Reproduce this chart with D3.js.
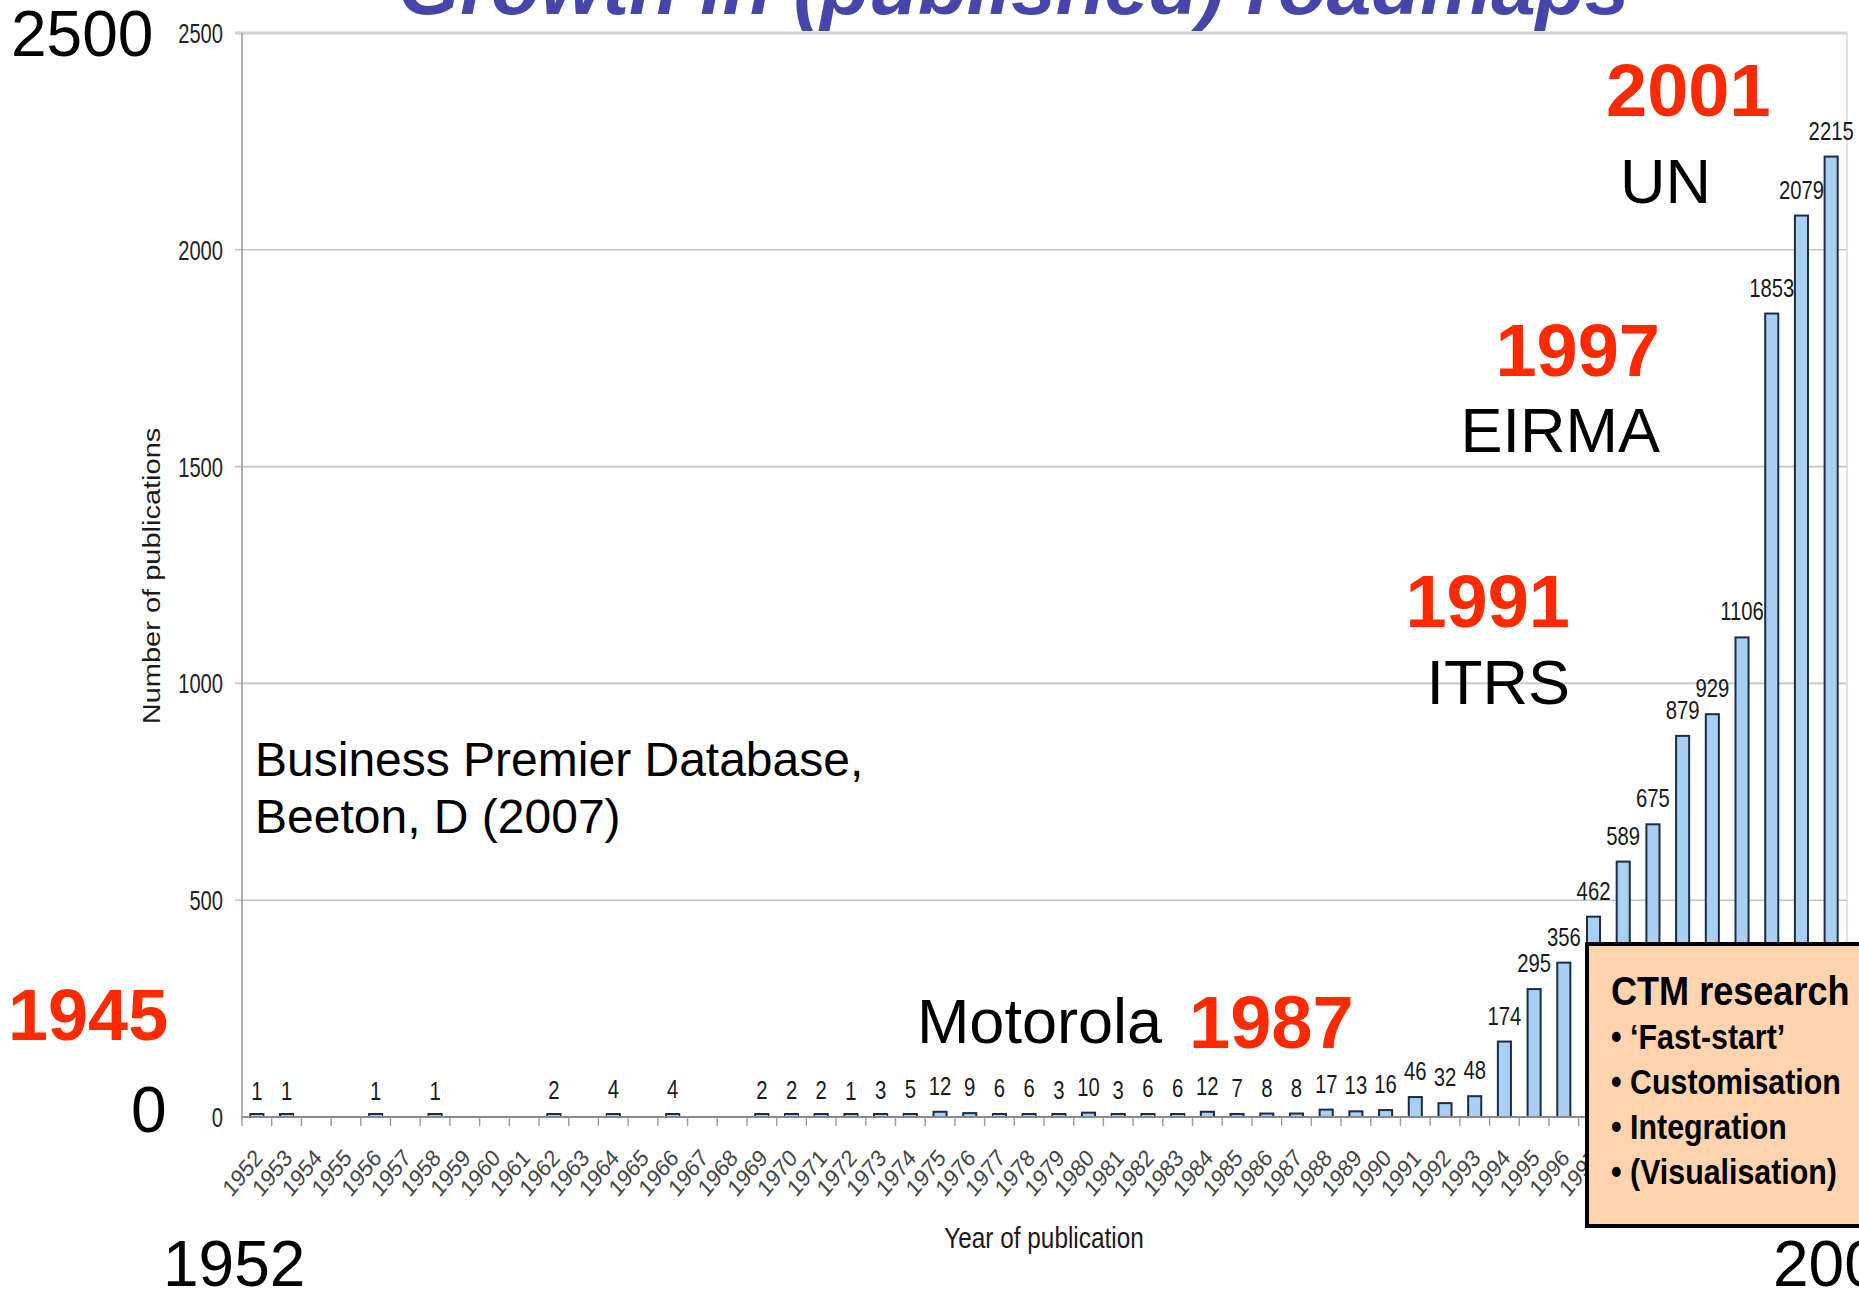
<!DOCTYPE html>
<html>
<head>
<meta charset="utf-8">
<script src="https://d3js.org/d3.v7.min.js"></script>
<style>
  html, body { margin: 0; padding: 0; background: #fff; overflow: hidden; }
  svg { display: block; font-family: "Liberation Sans", Arial, sans-serif; }
</style>
</head>
<body>
<svg id="chart" width="1859" height="1290"></svg>
<script>
// ---- data ----
const years = ["1952","1953","1954","1955","1956","1957","1958","1959","1960","1961",
  "1962","1963","1964","1965","1966","1967","1968","1969","1970","1971",
  "1972","1973","1974","1975","1976","1977","1978","1979","1980","1981",
  "1982","1983","1984","1985","1986","1987","1988","1989","1990","1991",
  "1992","1993","1994","1995","1996","1997","1998","1999","2000","2001",
  "2002","2003","2004","2005"];
const publications = [1,1,0,0,1,0,1,0,0,0,
  2,0,4,0,4,0,0,2,2,2,
  1,3,5,12,9,6,6,3,10,3,
  6,6,12,7,8,8,17,13,16,46,
  32,48,174,295,356,462,589,675,879,929,
  1106,1853,2079,2215];
const yTicks = [0, 500, 1000, 1500, 2000, 2500];
const titleText = "Growth in (published) roadmaps";
const yAxisTitle = "Number of publications";
const xAxisTitle = "Year of publication";
const milestones = [
  {year: "2001", org: "UN"},
  {year: "1997", org: "EIRMA"},
  {year: "1991", org: "ITRS"},
  {year: "1987", org: "Motorola"},
  {year: "1945", org: ""}
];
const sourceLines = ["Business Premier Database,", "Beeton, D (2007)"];
const boxLines = ["CTM research", "\u2022 \u2018Fast-start\u2019", "\u2022 Customisation", "\u2022 Integration", "\u2022 (Visualisation)"];
const bigAxisLabels = {yTop: "2500", yBottom: "0", xStart: "1952", xEnd: "2006"};

// ---- layout ----
const svg = d3.select("#chart");
const plot = {left: 242, right: 1846, top: 33, bottom: 1117};
const RED = "#ff2a00";

const x = d3.scaleBand().domain(years).range([plot.left, plot.right]).paddingInner(0.56).paddingOuter(0.28);
const xb = d3.scaleBand().domain(years).range([plot.left, plot.right]);
const y = d3.scaleLinear().domain([0, 2500]).range([plot.bottom, plot.top]);

// gridlines
svg.append("g").selectAll("line").data(yTicks.filter(d => d > 0)).join("line")
  .attr("x1", plot.left - 7).attr("x2", plot.right + 1)
  .attr("y1", d => y(d)).attr("y2", d => y(d))
  .attr("stroke", d => d === 2500 ? "#d2d2d2" : "#c4c4c4")
  .attr("stroke-width", d => d === 2500 ? 3 : 1.6);

// right border
svg.append("line").attr("x1", plot.right + 1).attr("x2", plot.right + 1)
  .attr("y1", plot.top).attr("y2", plot.bottom).attr("stroke", "#d8d8d8").attr("stroke-width", 1.5);

// y axis line
svg.append("line").attr("x1", plot.left).attr("x2", plot.left)
  .attr("y1", plot.top).attr("y2", plot.bottom + 2).attr("stroke", "#9a9a9a").attr("stroke-width", 1.6);

// y tick labels (condensed)
svg.append("g").selectAll("text").data(yTicks).join("text")
  .attr("transform", d => `translate(223,${y(d) + 10}) scale(0.72,1)`)
  .attr("text-anchor", "end").attr("font-size", 28).attr("fill", "#222")
  .text(d => d);

// bars
svg.append("g").selectAll("rect").data(years.map((yr, i) => ({yr, v: publications[i]})).filter(d => d.v > 0)).join("rect")
  .attr("x", d => x(d.yr)).attr("width", x.bandwidth())
  .attr("y", d => Math.min(y(d.v), plot.bottom - 3)).attr("height", d => Math.max(plot.bottom - y(d.v), 3))
  .attr("fill", "#a9d0f2").attr("stroke", "#1c2c44").attr("stroke-width", 2);

// x axis line + ticks
svg.append("line").attr("x1", plot.left).attr("x2", plot.right)
  .attr("y1", plot.bottom).attr("y2", plot.bottom).attr("stroke", "#8a8a8a").attr("stroke-width", 1.8);
svg.append("g").selectAll("line").data(years.concat(["end"])).join("line")
  .attr("x1", (d, i) => plot.left + i * xb.step()).attr("x2", (d, i) => plot.left + i * xb.step())
  .attr("y1", plot.bottom).attr("y2", plot.bottom + 9)
  .attr("stroke", "#9a9a9a").attr("stroke-width", 1.4);

// value labels
svg.append("g").selectAll("text").data(years.map((yr, i) => ({yr, v: publications[i]})).filter(d => d.v > 0)).join("text")
  .attr("transform", d => `translate(${x(d.yr) + x.bandwidth() / 2},${y(d.v) - 17}) scale(0.78,1)`)
  .attr("text-anchor", "middle").attr("font-size", 26).attr("fill", "#1a1a1a")
  .text(d => d.v);

// x tick labels (rotated)
svg.append("g").selectAll("text").data(years).join("text")
  .attr("transform", d => `translate(${xb(d) + xb.bandwidth() / 2 + 7},${plot.bottom + 42}) scale(0.88,1) rotate(-47)`)
  .attr("text-anchor", "end").attr("font-size", 24).attr("fill", "#444")
  .text(d => d);

// axis titles
svg.append("text").attr("transform", "translate(160,576) scale(0.8,1) rotate(-90)")
  .attr("text-anchor", "middle").attr("font-size", 29).attr("fill", "#1a1a1a").text(yAxisTitle);
svg.append("text").attr("transform", "translate(1044,1248) scale(0.84,1)")
  .attr("text-anchor", "middle").attr("font-size", 29).attr("fill", "#1a1a1a").text(xAxisTitle);

// title (cut off at top, as in the original slide)
svg.append("text").attr("x", 398).attr("y", 14)
  .attr("font-size", 80).attr("font-weight", "bold").attr("font-style", "italic")
  .attr("fill", "#4646aa").text(titleText);

// big axis labels
const big = svg.append("g").attr("font-size", 64).attr("fill", "#000");
big.append("text").attr("x", 11).attr("y", 56).text(bigAxisLabels.yTop);
big.append("text").attr("x", 131).attr("y", 1132).text(bigAxisLabels.yBottom);
big.append("text").attr("x", 163).attr("y", 1286).text(bigAxisLabels.xStart);
big.append("text").attr("x", 1773).attr("y", 1286).text(bigAxisLabels.xEnd);

// milestones
const msPos = {
  "2001": {yx: 1606, yy: 116, ox: 1620, oy: 203, anchor: "start"},
  "1997": {yx: 1660, yy: 376, ox: 1660, oy: 452, anchor: "end"},
  "1991": {yx: 1570, yy: 627, ox: 1570, oy: 704, anchor: "end"},
  "1987": {yx: 1189, yy: 1048, ox: 1162, oy: 1043, anchor: "start", orgAnchor: "end"},
  "1945": {yx: 8, yy: 1040, anchor: "start"}
};
milestones.forEach(m => {
  const p = msPos[m.year];
  svg.append("text").attr("x", p.yx).attr("y", p.yy).attr("text-anchor", p.anchor)
    .attr("font-size", m.year === "1945" ? 72 : 74).attr("font-weight", "bold").attr("fill", RED).text(m.year);
  if (m.org) {
    svg.append("text").attr("x", p.ox).attr("y", p.oy).attr("text-anchor", p.orgAnchor || p.anchor)
      .attr("font-size", 63).attr("fill", "#000").text(m.org);
  }
});

// source note
svg.append("g").selectAll("text").data(sourceLines).join("text")
  .attr("x", 255).attr("y", (d, i) => 776 + i * 57)
  .attr("font-size", 48).attr("fill", "#000").text(d => d);

// CTM box
svg.append("rect").attr("x", 1587).attr("y", 944).attr("width", 300).attr("height", 282)
  .attr("fill", "#fdd4ad").attr("stroke", "#000").attr("stroke-width", 4);
svg.append("g").selectAll("text").data(boxLines).join("text")
  .attr("transform", (d, i) => `translate(1611,${i === 0 ? 1005 : 1049 + (i - 1) * 45}) scale(0.88,1)`)
  .attr("font-size", (d, i) => i === 0 ? 41 : 34.5).attr("font-weight", "bold").attr("fill", "#000")
  .text(d => d);
</script>
</body>
</html>
